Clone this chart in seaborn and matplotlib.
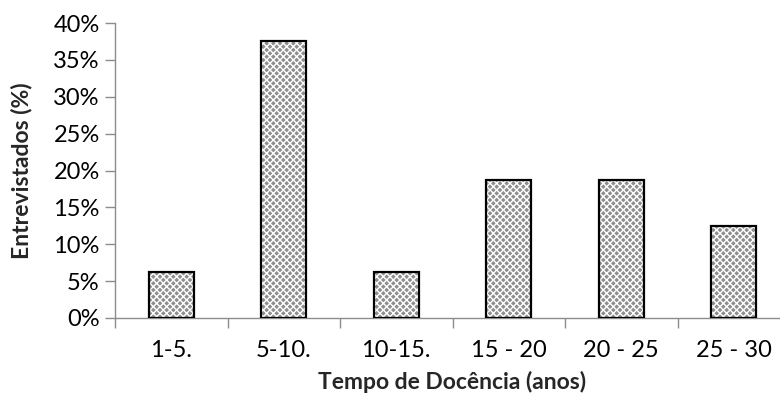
import matplotlib
matplotlib.use("Agg")
import matplotlib.pyplot as plt
import seaborn as sns
import pandas as pd
import numpy as np

categories = ["1-5.", "5-10.", "10-15.", "15 - 20", "20 - 25", "25 - 30"]
percentages = [6.25, 37.5, 6.25, 18.75, 18.75, 12.5]
y_ticks = [0, 5, 10, 15, 20, 25, 30, 35, 40]

sns.set_theme(style="white")
plt.rcParams["font.family"] = ["Lato", "DejaVu Sans"]
plt.rcParams["hatch.linewidth"] = 1.0

df = pd.DataFrame({"tempo": categories, "pct": percentages})

fig = plt.figure(figsize=(7.8, 4.03), dpi=100)
ax = fig.add_axes([115 / 780, 1 - 318 / 403, 675 / 780, (318 - 23) / 403])

sns.barplot(data=df, x="tempo", y="pct", order=categories, color="#8a8a8a",
            width=0.4, ax=ax, saturation=1)

# checkered fill: white hatch over grey, then a black outline on top
for p in ax.patches:
    p.set_facecolor("#8e8e8e")
    p.set_edgecolor("white")
    p.set_hatch("xxxxx")
    p.set_linewidth(0)
    outline = plt.Rectangle(p.get_xy(), p.get_width(), p.get_height(),
                            fill=False, edgecolor="black", linewidth=1.6, zorder=3)
    ax.add_patch(outline)

ax.set_ylim(0, 40)
ax.set_xlim(-0.5, len(categories) - 0.5)
ax.set_yticks(y_ticks)
ax.set_yticklabels([f"{v}%" for v in y_ticks])

ax.set_xticks(np.arange(len(categories)))
ax.set_xticklabels(categories)
ax.set_xticks(np.arange(len(categories) + 1) - 0.5, minor=True)
ax.tick_params(axis="x", which="major", length=0, pad=16, labelsize=17, colors="black")
ax.tick_params(axis="x", which="minor", length=7, width=1, color="#8c8c8c", direction="out", bottom=True)
ax.tick_params(axis="y", which="major", length=7, width=1, color="#8c8c8c", direction="out",
               left=True, pad=4, labelsize=17, labelcolor="black")

for side in ["top", "right"]:
    ax.spines[side].set_visible(False)
for side in ["left", "bottom"]:
    ax.spines[side].set_color("#8c8c8c")
    ax.spines[side].set_linewidth(1)

ax.set_xlabel("Tempo de Docência (anos)", fontsize=16.5, fontweight="bold")
ax.set_ylabel("Entrevistados (%)", fontsize=16.5, fontweight="bold")
ax.xaxis.set_label_coords(0.5, (318 - 371) / 295)
ax.yaxis.set_label_coords((32 - 115) / 675, 0.5)

fig.savefig("out.png", dpi=100)
